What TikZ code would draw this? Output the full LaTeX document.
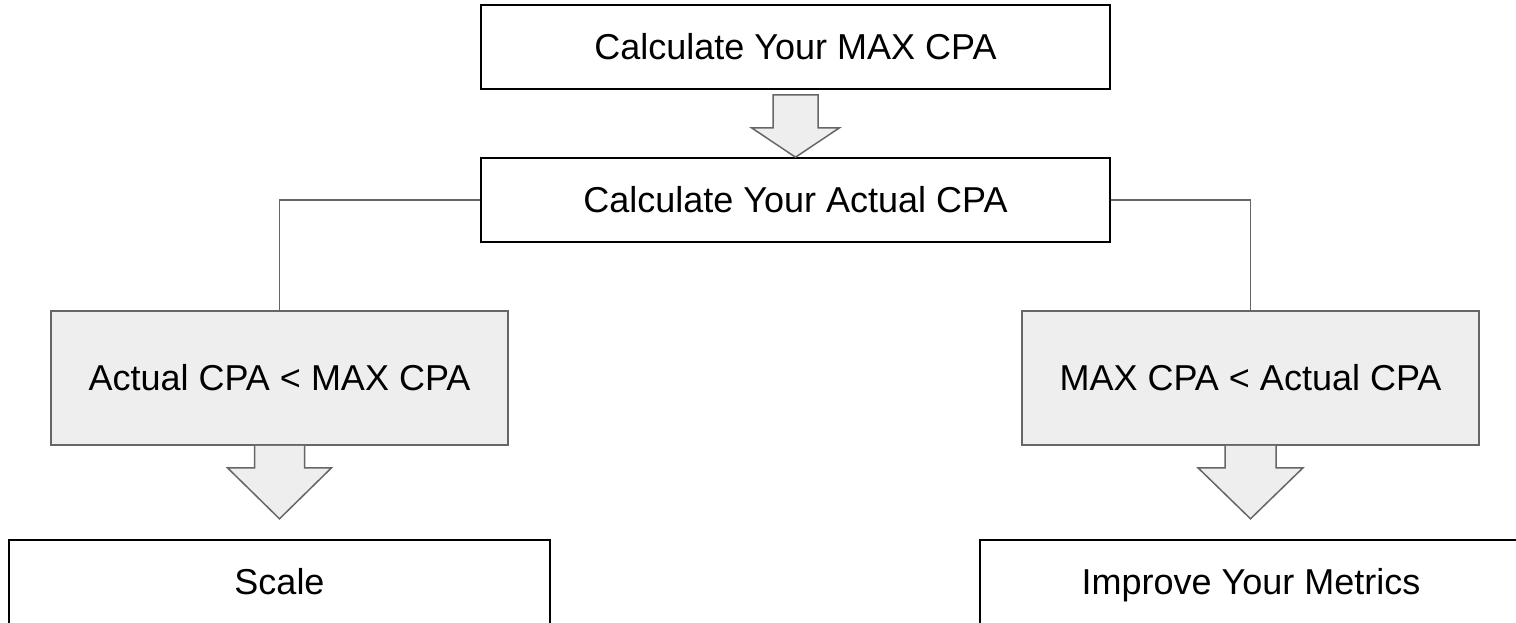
\documentclass[tikz,border=0pt]{standalone}
\usepackage{fontspec}
\setmainfont{Liberation Sans}
\usetikzlibrary{calc}
\definecolor{boxgray}{HTML}{EEEEEE}
\definecolor{edgegray}{HTML}{666666}
\begin{document}
\begin{tikzpicture}[x=1pt,y=-1pt,
  every node/.style={inner sep=0pt, font=\fontsize{36}{43}\selectfont,
    text height=25.8pt, text depth=0pt},
  plainbox/.style={draw=black, line width=1.6pt, fill=white, minimum height=84pt},
  condbox/.style={draw=edgegray, line width=1.6pt, fill=boxgray,
    minimum width=457pt, minimum height=134pt},
  link/.style={draw=edgegray, line width=1.6pt},
  blockarrow/.style={draw=edgegray, line width=1.5pt, fill=boxgray, line join=miter}]
\clip (0,0) rectangle (1516,623);
\fill[white] (0,0) rectangle (1516,623);

% steps
\node[plainbox, minimum width=629pt] (maxcpa) at (795.5,47) {Calculate Your MAX CPA};
\node[plainbox, minimum width=629pt] (actcpa) at (795.5,200) {Calculate Your Actual CPA};

% conditions
\node[condbox] (below) at (279.5,378) {Actual CPA < MAX CPA};
\node[condbox] (above) at (1250.5,378) {MAX CPA < Actual CPA};

% outcomes
\node[plainbox, minimum width=541pt] (scale) at (279.5,582) {Scale};
\node[plainbox, minimum width=542pt] (improve) at (1251,582) {Improve Your Metrics};

% branch connectors
\draw[link] (actcpa.west) -| (below.north);
\draw[link] (actcpa.east) -| (above.north);

% block arrows
\draw[blockarrow] ($(maxcpa.south)+(-22.5,5)$) -- ++(0,33) -- ++(-21.5,0)
  -- (actcpa.north) -- ($(maxcpa.south)+(44,38)$) -- ++(-21.5,0) -- ++(0,-33) -- cycle;
\coordinate (tipL) at ($(below.south)+(0,73)$);
\draw[blockarrow] ($(below.south)+(-25,0)$) -- ++(0,22) -- ++(-27,0)
  -- (tipL) -- ($(below.south)+(52,22)$) -- ++(-27,0) -- ++(0,-22);
\coordinate (tipR) at ($(above.south)+(0,73)$);
\draw[blockarrow] ($(above.south)+(-25.5,0)$) -- ++(0,22) -- ++(-27,0)
  -- (tipR) -- ($(above.south)+(52.5,22)$) -- ++(-27,0) -- ++(0,-22);
\end{tikzpicture}
\end{document}
